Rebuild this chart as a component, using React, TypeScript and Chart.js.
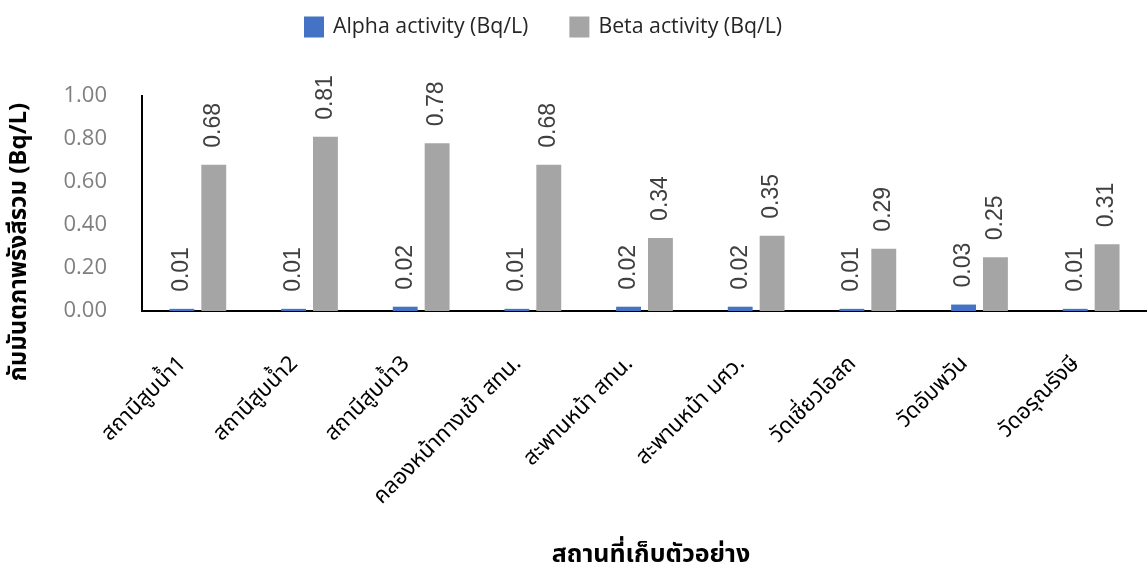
import React, { useEffect, useRef } from "react";
import { Chart, registerables } from "chart.js";

Chart.register(...registerables);

const categories = [
  "สถานีสูบน้ำ1",
  "สถานีสูบน้ำ2",
  "สถานีสูบน้ำ3",
  "คลองหน้าทางเข้า สทน.",
  "สะพานหน้า สทน.",
  "สะพานหน้า มศว.",
  "วัดเชี่ยวโอสถ",
  "วัดอัมพวัน",
  "วัดอรุณรังษี",
];
const alphaValues = [0.01, 0.01, 0.02, 0.01, 0.02, 0.02, 0.01, 0.03, 0.01];
const betaValues = [0.68, 0.81, 0.78, 0.68, 0.34, 0.35, 0.29, 0.25, 0.31];
const seriesNames = ["Alpha activity (Bq/L)", "Beta activity (Bq/L)"];
const seriesColors = ["#4472C4", "#A5A5A5"];
const yMin = 0;
const yMax = 1;
const yStep = 0.2;
const yTitle = "กัมมันตภาพรังสีรวม (Bq/L)";
const xTitle = "สถานที่เก็บตัวอย่าง";

const THAI_FONT = "'Noto Sans Thai', 'Noto Sans Thai UI', 'Leelawadee UI', Tahoma, Loma, Garuda, 'Noto Sans', sans-serif";
const UI_FONT = "'Open Sans', 'Noto Sans', sans-serif";
const LABEL_FONT = "'Liberation Sans', Arial, sans-serif";

const overlay = {
  id: "overlay",
  afterDatasetsDraw(chart: any) {
    const ctx = chart.ctx as CanvasRenderingContext2D;
    // data labels
    chart.data.datasets.forEach((ds: any, di: number) => {
      const meta = chart.getDatasetMeta(di);
      meta.data.forEach((bar: any, i: number) => {
        const v = ds.data[i] as number;
        ctx.save();
        ctx.translate(bar.x, bar.y - 17);
        ctx.rotate(-Math.PI / 2);
        ctx.font = `23px ${LABEL_FONT}`;
        ctx.fillStyle = "#404040";
        ctx.textAlign = "left";
        ctx.textBaseline = "middle";
        ctx.fillText(v.toFixed(2), 0, 0);
        ctx.restore();
      });
    });
    // legend
    ctx.save();
    ctx.font = `21.3px ${UI_FONT}`;
    const boxW = 20;
    const boxH = 21;
    const gapText = 9;
    const gapItem = 41;
    let x = 304;
    const cy = 27;
    chart.data.datasets.forEach((d: any) => {
      ctx.fillStyle = d.backgroundColor;
      ctx.fillRect(x, cy - boxH / 2, boxW, boxH);
      x += boxW + gapText;
      ctx.fillStyle = "#262626";
      ctx.textAlign = "left";
      ctx.textBaseline = "middle";
      ctx.fillText(d.label, x, cy);
      x += ctx.measureText(d.label).width + gapItem;
    });
    ctx.restore();
    // axis titles
    ctx.save();
    ctx.fillStyle = "#000";
    ctx.textAlign = "center";
    ctx.textBaseline = "middle";
    ctx.font = `bold 25px ${THAI_FONT}`;
    ctx.fillText(xTitle, 651, 557);
    ctx.font = `bold 24px ${THAI_FONT}`;
    ctx.translate(21, 242);
    ctx.rotate(-Math.PI / 2);
    ctx.fillText(yTitle, 0, 0);
    ctx.restore();
  },
};

export default function App() {
  const ref = useRef<HTMLCanvasElement>(null);
  useEffect(() => {
    if (!ref.current) return;
    const chart = new Chart(ref.current, {
      type: "bar",
      data: {
        labels: categories,
        datasets: [
          {
            label: seriesNames[0],
            data: alphaValues,
            backgroundColor: seriesColors[0],
            barPercentage: 0.78,
            categoryPercentage: 0.571,
          },
          {
            label: seriesNames[1],
            data: betaValues,
            backgroundColor: seriesColors[1],
            barPercentage: 0.78,
            categoryPercentage: 0.571,
          },
        ],
      },
      options: {
        animation: false,
        responsive: false,
        devicePixelRatio: 1,
        layout: { padding: { top: 96, left: 0, right: -5, bottom: 0 } },
        plugins: {
          legend: { display: false },
          tooltip: { enabled: false },
        },
        scales: {
          x: {
            grid: { display: false, drawTicks: false },
            border: { display: true, color: "#000", width: 2 },
            ticks: {
              autoSkip: false,
              maxRotation: 45,
              minRotation: 45,
              padding: 50,
              labelOffset: -14,
              color: "#000",
              font: { family: THAI_FONT, size: 22, lineHeight: 0.05 },
            },
            afterFit: (s: any) => {
              s.height = 265;
            },
          },
          y: {
            min: yMin,
            max: yMax,
            grid: { display: false, drawTicks: false },
            border: { display: true, color: "#000", width: 2 },
            ticks: {
              stepSize: yStep,
              padding: 35,
              color: "#7F7F7F",
              font: { family: UI_FONT, size: 22 },
              callback: (v: any) => Number(v).toFixed(2),
            },
            afterFit: (s: any) => {
              s.width = 142;
            },
          },
        },
      },
      plugins: [overlay],
    });
    return () => chart.destroy();
  }, []);
  return (
    <div style={{ position: "absolute", left: 0, top: 0, width: 1147, height: 576, background: "#fff" }}>
      <canvas ref={ref} width={1147} height={576} style={{ display: "block" }} />
    </div>
  );
}
